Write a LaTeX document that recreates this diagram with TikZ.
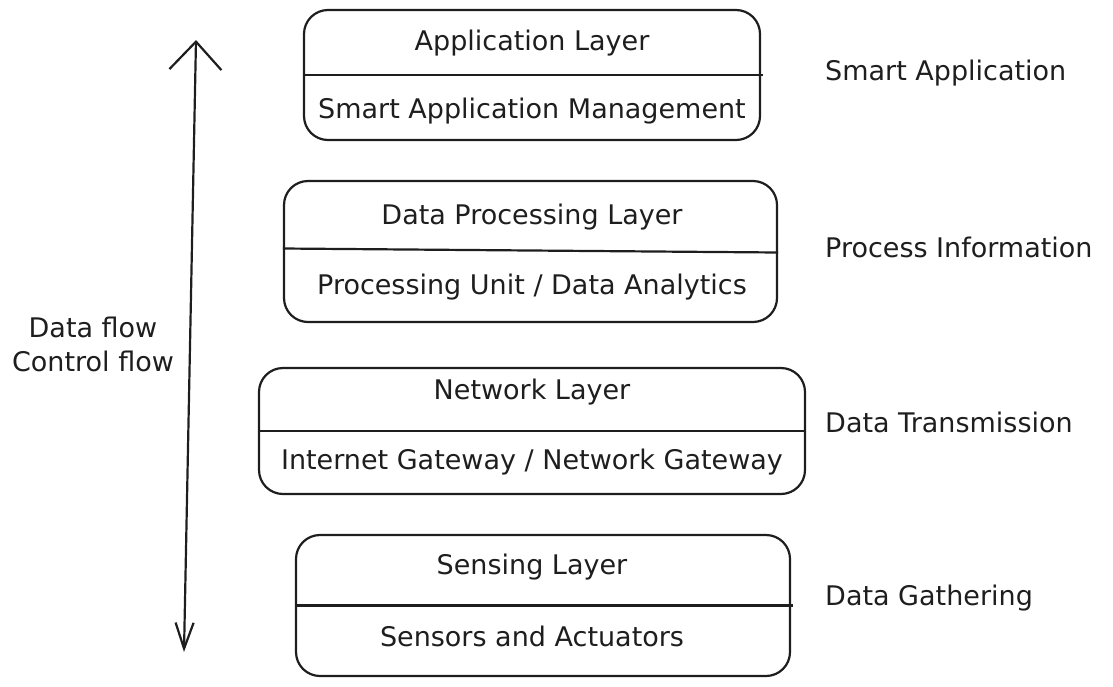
\documentclass[tikz,border=0pt]{standalone}
\usepackage{fontspec}
\setmainfont{DejaVu Sans}
\usetikzlibrary{arrows.meta}
\definecolor{ink}{HTML}{1E1E1E}
\begin{document}
\begin{tikzpicture}[x=1pt,y=-1pt,
  layerbox/.style={draw=ink, line width=2.2pt, rounded corners=24pt, rectangle, inner sep=0pt},
  divider/.style={draw=ink, line width=2.2pt},
  txt/.style={text=ink, font=\fontsize{27}{32}\selectfont, inner sep=0pt, anchor=center},
  side/.style={text=ink, font=\fontsize{27}{32}\selectfont, inner sep=0pt, anchor=west},
  flow/.style={draw=ink, line width=2.2pt}
]
\useasboundingbox (0,0) rectangle (1113,686);
% boxes
\node[layerbox, minimum width=456pt, minimum height=130pt] (app) at (532,75) {};
\node[layerbox, minimum width=493pt, minimum height=141pt] (proc) at (530.5,251.5) {};
\node[layerbox, minimum width=546pt, minimum height=126pt] (net) at (532,431) {};
\node[layerbox, minimum width=494pt, minimum height=141pt] (sens) at (543,605.5) {};
\draw[divider] (app.west) -- ([xshift=2pt]app.east);
\draw[divider] ([yshift=3pt]proc.west) -- ([yshift=-1pt]proc.east);
\draw[divider] (net.west) -- (net.east);
\draw[divider] (sens.west) -- ([xshift=2pt]sens.east);
% box texts
\node[txt] (appT) at (532,43) {Application Layer};
\node[txt] (appB) at (532,111) {Smart Application Management};
\node[txt] (procT) at (532,217) {Data Processing Layer};
\node[txt] (procB) at (532,287) {Processing Unit / Data Analytics};
\node[txt] (netT) at (532,392) {Network Layer};
\node[txt] (netB) at (532,462) {Internet Gateway / Network Gateway};
\node[txt] (sensT) at (532,567) {Sensing Layer};
\node[txt] (sensB) at (532,636) {Sensors and Actuators};
% side labels
\node[side] (s1) at (825,73) {Smart Application};
\node[side] (s2) at (825,247) {Process Information};
\node[side] (s3) at (825,422) {Data Transmission};
\node[side] (s4) at (825,598) {Data Gathering};
% flow arrow
\node[txt] (df) at (93,327) {Data flow};
\node[txt] (cf) at (93,361) {Control flow};
\coordinate (ftop) at (196,40);
\coordinate (fbot) at (184,652);
\draw[flow, {Straight Barb[length=26pt,width=18pt,line width=2.2pt]}-{Straight Barb[length=28pt,width=52pt,line width=2.2pt]}] (fbot) -- (ftop);
\end{tikzpicture}
\end{document}
